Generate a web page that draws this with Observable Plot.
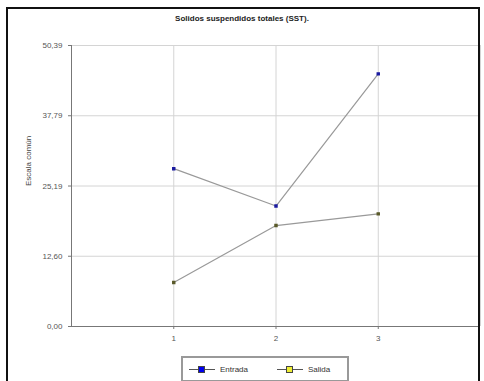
<!DOCTYPE html>
<html><head><meta charset="utf-8">
<script src="https://cdn.jsdelivr.net/npm/d3@7"></script>
<script src="https://cdn.jsdelivr.net/npm/@observablehq/plot@0.6"></script>
<style>
body{margin:0;background:#fff;font-family:"Liberation Sans",Arial,sans-serif;}
#wrap{position:relative;width:484px;height:381px;overflow:hidden;}
#frame{position:absolute;left:6px;top:7px;width:474px;height:380px;border:2px solid #111;box-sizing:border-box;}
#title{position:absolute;left:0;width:484px;top:14px;text-align:center;font-size:8px;font-weight:bold;color:#222;}
#legend{position:absolute;left:181px;top:356px;width:168px;height:26px;border:2px solid #999;box-sizing:border-box;font-size:8px;color:#333;}
.li{position:absolute;top:7px;display:flex;align-items:center;}
.sw{position:relative;width:26px;height:8px;margin-right:5px;}
.sw .ln{position:absolute;left:0;right:0;top:3.5px;height:1px;background:#555;}
.sw .mk{position:absolute;left:9px;top:0;width:7px;height:7px;border:1px solid #444;box-sizing:border-box;}
#chart{position:absolute;left:0;top:0;}
</style></head><body>
<div id="wrap">
<div id="chart"></div>
<div id="frame"></div>
<div id="title">Solidos suspendidos totales (SST).</div>
<div id="legend"></div>
</div>
<script>
const categories = [1, 2, 3];
const entrada = [28.3, 21.6, 45.3];
const salida = [7.9, 18.1, 20.2];
const yTicks = [0, 12.60, 25.19, 37.79, 50.39];
const seriesNames = ["Entrada", "Salida"];
const seriesColors = ["#1a1aa0", "#5a5a2a"];
const legendColors = ["#0000ee", "#eeee33"];

const rows = [];
categories.forEach((c, i) => {
  rows.push({x: c, y: entrada[i], s: "Entrada"});
  rows.push({x: c, y: salida[i], s: "Salida"});
});
const fmt = d => d.toFixed(2).replace(".", ",");

const plot = Plot.plot({
  width: 484, height: 381,
  marginLeft: 71, marginRight: 4, marginTop: 45, marginBottom: 55,
  style: {fontFamily: "Liberation Sans, Arial, sans-serif", fontSize: "8px", color: "#555", background: "transparent"},
  x: {domain: [0, 4], ticks: categories, tickFormat: d => String(d), tickSize: 3, label: null},
  y: {domain: [0, 50.39], ticks: yTicks, tickFormat: fmt, tickSize: 3, label: null},
  color: {domain: seriesNames, range: seriesColors},
  marks: [
    Plot.gridY(yTicks, {stroke: "#d4d4d4", strokeOpacity: 1}),
    Plot.gridX([1, 2, 3, 4], {stroke: "#d4d4d4", strokeOpacity: 1}),
    Plot.axisY({ticks: yTicks, tickFormat: fmt, tickSize: 3, label: null, stroke: "#777"}),
    Plot.axisX({ticks: categories, tickFormat: d => String(d), tickSize: 3, label: null, stroke: "#777"}),
    Plot.ruleX([0], {stroke: "#777"}),
    Plot.ruleY([0], {stroke: "#777"}),
    Plot.text(["Escala común"], {frameAnchor: "left", dx: -43, rotate: -90, fontSize: 8, fill: "#444"}),
    Plot.line(rows, {x: "x", y: "y", z: "s", stroke: "#999", strokeWidth: 1.2}),
    Plot.dot(rows, {x: "x", y: "y", fill: "s", stroke: "s", symbol: "square", r: 1.1})
  ]
});
document.getElementById("chart").appendChild(plot);

const lg = document.getElementById("legend");
const lefts = [6, 94];
seriesNames.forEach((n, i) => {
  const d = document.createElement("div");
  d.className = "li";
  d.style.left = lefts[i] + "px";
  d.innerHTML = `<div class="sw"><div class="ln"></div><div class="mk" style="background:${legendColors[i]}"></div></div><span>${n}</span>`;
  lg.appendChild(d);
});
</script>
</body></html>
